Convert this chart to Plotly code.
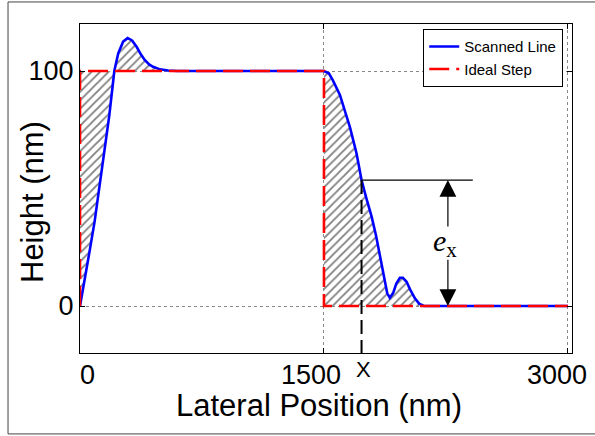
import numpy as np
import plotly.graph_objects as go

# Scanned profile (nm)
scan_x = [0, 30, 57, 90, 119, 150, 180, 211, 235, 265, 293, 320, 348, 375, 398, 425,
          449, 492, 540, 600, 1500, 1530, 1555, 1598, 1630, 1660, 1700, 1731, 1760,
          1793, 1820, 1844, 1868, 1889, 1905, 1925, 1945, 1967, 1985, 2008, 2030,
          2059, 2085, 2114, 3000]
scan_y = [0, 11, 22.5, 36, 50.6, 65, 81, 100, 107.5, 112.5, 114, 113, 110.3, 107,
          104.7, 102.8, 101.8, 100.7, 100.2, 100, 100, 99, 96, 89.8, 83, 76, 65, 53.6,
          46, 38, 30, 21, 12, 5.4, 3.5, 5.5, 9.5, 12, 12, 10.3, 7, 3.3, 1, 0, 0]

# Ideal step (nm)
step_x = [0, 0, 1500, 1500, 3000]
step_y = [0, 100, 100, 0, 0]

x_ticks = [0, 1500, 3000]
x_tick_labels = ["0", "1500", "3000"]
x_tick_shift = [7, -13, -11]
y_ticks = [0, 100]

# Error annotation
x_mark = 1731
ex_arrow_x = 2262
ex_line_end = 2415

sx = np.array(scan_x, float)
sy = np.array(scan_y, float)
top = step_y[1]
edge = step_x[2]

# Hatched areas between the scan and the ideal step
i_cross = int(np.argmax(sy >= top))
x_cross = sx[i_cross]
left_x = list(sx[:i_cross + 1]) + [0, 0]
left_y = list(sy[:i_cross + 1]) + [top, 0]

over = (sx >= x_cross) & (sx < edge) & (sy >= top)
i_last = np.where(over)[0][-1]
bump_x = list(sx[i_cross:i_last + 1])
bump_y = list(sy[i_cross:i_last + 1])

i_edge = int(np.where(sx == edge)[0][0])
i_floor = int(np.where((sx > edge) & (sy <= 0))[0][0])
fall_x = list(sx[i_edge:i_floor + 1]) + [edge, edge]
fall_y = list(sy[i_edge:i_floor + 1]) + [0, top]

ex_level = float(np.interp(x_mark, sx, sy))

fig = go.Figure()

hatch = dict(shape="/", size=6, solidity=0.3, fgcolor="black", bgcolor="white")
for px, py in [(left_x, left_y), (bump_x, bump_y), (fall_x, fall_y)]:
    fig.add_trace(go.Scatter(x=px, y=py, mode="lines", fill="toself",
                             fillcolor="white", fillpattern=hatch,
                             line=dict(width=0), showlegend=False,
                             hoverinfo="skip"))

fig.add_trace(go.Scatter(x=scan_x, y=scan_y, mode="lines", name="Scanned Line",
                         line=dict(color="#0000ff", width=2.6)))
fig.add_trace(go.Scatter(x=step_x, y=step_y, mode="lines", name="Ideal Step",
                         line=dict(color="#ff0000", width=2.6, dash="20px,7px")))

font = "Arial"

# Marker line at x and level line for e_x
fig.add_shape(type="line", x0=x_mark, x1=x_mark, y0=ex_level, y1=-20,
              line=dict(color="black", width=2, dash="14px,6px"))
fig.add_shape(type="line", x0=x_mark, x1=ex_line_end, y0=ex_level, y1=ex_level,
              line=dict(color="black", width=1.2))

annotations = []
for y_tip, y_tail in [(ex_level, ex_level * 0.62), (0, ex_level * 0.38)]:
    annotations.append(dict(x=ex_arrow_x, y=y_tip, ax=ex_arrow_x, ay=y_tail,
                            xref="x", yref="y", axref="x", ayref="y", text="",
                            showarrow=True, arrowhead=2, arrowsize=2.8,
                            arrowwidth=1.2, arrowcolor="black"))
annotations.append(dict(x=ex_arrow_x, y=ex_level / 2, xref="x", yref="y",
                        xshift=-3,
                        text="<i>e</i><sub>x</sub>", showarrow=False,
                        font=dict(family="Liberation Serif, Times New Roman, serif",
                                  size=30, color="black")))
for xv, lab, sh in zip(x_ticks, x_tick_labels, x_tick_shift):
    annotations.append(dict(x=xv, y=-0.067, xref="x", yref="paper", text=lab,
                            xshift=sh, showarrow=False, yanchor="middle",
                            font=dict(family=font, size=27, color="black")))
annotations.append(dict(x=x_mark, y=-0.05, xref="x", yref="paper", text="X",
                        xshift=2, showarrow=False, yanchor="middle",
                        font=dict(family=font, size=22, color="black")))
annotations.append(dict(x=0.486, y=-0.16, xref="paper", yref="paper",
                        text="Lateral Position (nm)", showarrow=False,
                        yanchor="middle",
                        font=dict(family=font, size=31, color="black")))
annotations.append(dict(x=-0.0955, y=0.459, xref="paper", yref="paper",
                        text="Height (nm)", showarrow=False, textangle=-90,
                        xanchor="center", yanchor="middle",
                        font=dict(family=font, size=31, color="black")))

# Figure frame
fig.add_shape(type="rect", xref="paper", yref="paper", x0=-0.1463, x1=1.06,
              y0=-0.246, y1=1.067, line=dict(color="#444444", width=1),
              layer="below")

axis_common = dict(showline=True, linecolor="black", linewidth=1.3, mirror="ticks",
                   ticks="inside", ticklen=5, tickcolor="black",
                   showgrid=True, gridcolor="#888888", griddash="dot", gridwidth=1,
                   zeroline=False)

fig.update_layout(
    width=595, height=436,
    margin=dict(l=80, r=23, t=24, b=83),
    paper_bgcolor="white", plot_bgcolor="white",
    xaxis=dict(range=[0, 3025], tickvals=x_ticks, showticklabels=False, **axis_common),
    yaxis=dict(range=[-20, 120], tickvals=y_ticks,
               tickfont=dict(family=font, size=27, color="black"), **axis_common),
    legend=dict(x=0.697, y=0.985, xanchor="left", yanchor="top",
                bordercolor="black", borderwidth=1.3, bgcolor="white",
                font=dict(family=font, size=15, color="black"),
                tracegroupgap=0, itemwidth=30),
    annotations=annotations,
    showlegend=True,
)

fig.write_html("out.html")
